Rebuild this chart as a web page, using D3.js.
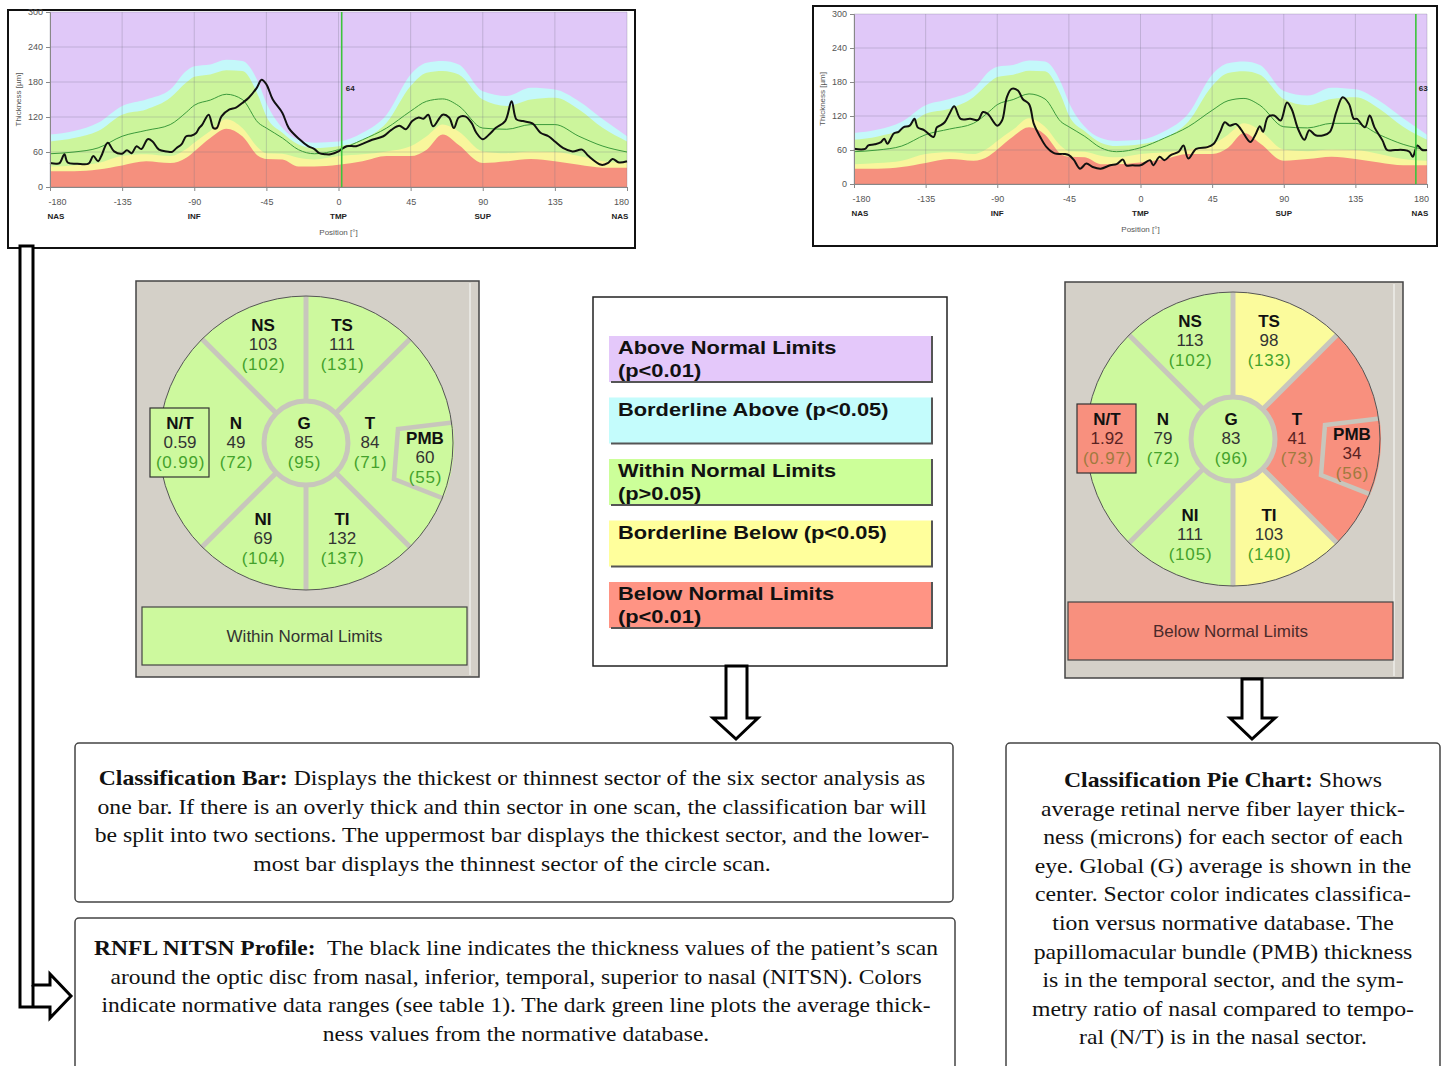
<!DOCTYPE html>
<html><head><meta charset="utf-8">
<script src="https://cdn.jsdelivr.net/npm/d3@7"></script>
<style>body{margin:0;background:#fff} svg{display:block} text{white-space:pre}</style>
</head><body>
<svg id="c" width="1445" height="1066"></svg>
<script>
// ---------- DATA ----------
const normDeg = [-180,-165,-150,-135,-120,-105,-95,-90,-80,-70,-60,-50,-45,-35,-25,-15,0,15,30,45,55,65,75,90,105,120,135,150,165,180];
const normBelow       = [27,27,30,37,44,41,50,61,84,100,87,53,48,47,35,35,38,44,53,53,64,90,72,41,44,48,44,38,33,33];
const normBorderBelow = [35,37,41,53,56,53,65,76,96,116,101,67,58,57,50,47,53,56,61,70,87,107,95,61,58,61,60,53,44,41];
const normWithin      = [78,84,96,124,133,153,179,189,193,200,199,156,121,93,73,67,70,81,110,173,196,199,193,150,139,150,153,133,101,78];
const normBorderAbove = [90,96,110,139,150,167,199,207,210,218,216,179,144,101,81,76,78,93,124,193,213,216,210,164,156,170,167,147,116,87];
const normMean        = [57,60,67,87,97,107,128,140,149,159,150,110,101,84,64,57,64,81,101,130,147,151,139,101,99,107,107,87,70,60];

const odDeg = [-180,-176,-174,-171,-169,-163,-156,-153,-150,-148,-144,-140,-135,-132,-129,-126,-123,-119,-116,-112,-107,-104,-101,-98,-95,-92,-89,-87,-85,-81,-78,-76,-73,-68,-64,-60,-56,-51,-48,-45,-41,-35,-31,-24,-19,-15,-12,-8,-5,0,5,11,15,21,28,33,38,42,46,50,53,56,59,65,69,72,75,79,83,86,90,94,98,104,108,111,115,121,126,131,135,140,146,152,156,164,168,171,175,180];
const odVal = [41,40,41,56,42,40,40,53,44,53,76,61,57,63,58,70,65,82,78,64,61,60,67,73,87,88,92,101,107,124,101,101,121,133,136,144,153,170,184,176,150,127,101,81,70,65,58,56,56,61,70,70,74,81,87,98,105,99,113,119,117,124,104,124,119,101,119,121,110,93,82,90,101,113,147,116,113,109,93,87,78,67,61,64,53,38,41,48,42,44];

const osDeg = [-180,-173,-171,-167,-163,-161,-159,-155,-152,-149,-145,-142,-140,-136,-130,-128,-126,-123,-120,-117,-113,-107,-102,-99,-96,-90,-87,-84,-81,-77,-74,-70,-67,-63,-59,-54,-48,-45,-42,-38,-34,-30,-25,-19,-15,-11,-9,-5,0,6,8,12,15,19,24,27,30,35,42,46,50,53,56,60,63,69,72,75,77,80,84,88,92,95,99,103,106,110,115,119,123,127,131,134,136,141,144,147,152,155,160,165,169,171,174,177,180];
const osVal = [62,62,68,70,74,80,71,89,92,100,103,115,100,95,83,100,103,109,124,137,115,115,113,127,124,103,112,153,168,165,150,141,106,83,65,54,53,51,43,27,36,30,27,33,35,43,33,33,33,42,33,48,42,51,57,68,45,62,65,71,92,109,103,106,97,74,86,102,92,118,121,112,144,132,97,78,95,86,86,92,127,153,141,115,115,100,121,100,77,60,60,60,57,48,68,60,60];

const xTicks = [-180,-135,-90,-45,0,45,90,135,180];
const yTicks = [0,60,120,180,240,300];
const locDeg = [-180,-90,0,90,180];
const locLabels = ["NAS","INF","TMP","SUP","NAS"];
const markerDeg = [2, 173];
const markerLabel = ["64","63"];

const pieLabels    = ["NS","TS","N","G","T","PMB","NI","TI","N/T"];
const odMeasured   = ["103","111","49","85","84","60","69","132","0.59"];
const odNormative  = ["(102)","(131)","(72)","(95)","(71)","(55)","(104)","(137)","(0.99)"];
const odClass      = ["W","W","W","W","W","W","W","W","W"];
const osMeasured   = ["113","98","79","83","41","34","111","103","1.92"];
const osNormative  = ["(102)","(133)","(72)","(96)","(73)","(56)","(105)","(140)","(0.97)"];
const osClass      = ["W","BB","W","W","B","B","W","BB","B"];
const classBarText = ["Within Normal Limits","Below Normal Limits"];
const classBarClass = ["W","B"];

const legendKeys  = ["A","BA","W","BB","B"];
const legendLines = [["Above Normal Limits","(p<0.01)"],["Borderline Above (p<0.05)"],["Within Normal Limits","(p>0.05)"],["Borderline Below (p<0.05)"],["Below Normal Limits","(p<0.01)"]];

const classBarNote = [["Classification Bar:"," Displays the thickest or thinnest sector of the six sector analysis as"],["","one bar. If there is an overly thick and thin sector in one scan, the classification bar will"],["","be split into two sections. The uppermost bar displays the thickest sector, and the lower-"],["","most bar displays the thinnest sector of the circle scan."]];
const profileNote = [["RNFL NITSN Profile:","  The black line indicates the thickness values of the patient\u2019s scan"],["","around the optic disc from nasal, inferior, temporal, superior to nasal (NITSN). Colors"],["","indicate normative data ranges (see table 1). The dark green line plots the average thick-"],["","ness values from the normative database."]];
const pieNote = [["Classification Pie Chart:"," Shows"],["","average retinal nerve fiber layer thick-"],["","ness (microns) for each sector of each"],["","eye. Global (G) average is shown in the"],["","center. Sector color indicates classifica-"],["","tion versus normative database. The"],["","papillomacular bundle (PMB) thickness"],["","is in the temporal sector, and the sym-"],["","metry ratio of nasal compared to tempo-"],["","ral (N/T) is in the nasal sector."]];

// ---------- STYLE ----------
const BAND = {A:"#e0c8f8", BA:"#c4f8fa", W:"#ccf59c", BB:"#f8f69c", B:"#f5907e"};
const PIE  = {A:"#e0c8f8", BA:"#c4f8fa", W:"#cdf99e", BB:"#fbfb9c", B:"#f8907e"};
const LEG  = {A:"#e4c8fa", BA:"#c4fcfc", W:"#ccff99", BB:"#ffff9c", B:"#ff9484"};
const SANS = "'Liberation Sans', Arial, sans-serif";
const SERIF = "'Liberation Serif', 'Times New Roman', serif";

const svg = d3.select("#c");

// ---------- PROFILE CHARTS ----------
function profile(cfg){
  const g = svg.append("g");
  g.append("rect").attr("x",cfg.fx).attr("y",cfg.fy).attr("width",cfg.fw).attr("height",cfg.fh)
    .attr("fill","#fff").attr("stroke","#111").attr("stroke-width",2);
  const x = d3.scaleLinear().domain([-180,180]).range([cfg.px0,cfg.px1]);
  const y = d3.scaleLinear().domain([0,300]).range([cfg.py0,cfg.py1]);
  const idx = d3.range(normDeg.length);
  g.append("rect").attr("x",x(-180)).attr("y",y(300)).attr("width",x(180)-x(-180)).attr("height",y(0)-y(300)).attr("fill",BAND.A);
  const band = (arr,col)=> g.append("path").datum(idx)
      .attr("d", d3.area().x(i=>x(normDeg[i])).y0(y(0)).y1(i=>y(arr[i])).curve(d3.curveMonotoneX))
      .attr("fill",col);
  band(normBorderAbove,BAND.BA);
  band(normWithin,BAND.W);
  band(normBorderBelow,BAND.BB);
  band(normBelow,BAND.B);
  g.selectAll(".gv").data(xTicks).enter().append("line")
    .attr("x1",d=>x(d)).attr("x2",d=>x(d)).attr("y1",y(0)).attr("y2",y(300))
    .attr("stroke","rgba(110,110,130,0.28)").attr("stroke-width",1);
  g.selectAll(".gh").data(yTicks).enter().append("line")
    .attr("x1",x(-180)).attr("x2",x(180)).attr("y1",d=>y(d)).attr("y2",d=>y(d))
    .attr("stroke","rgba(110,110,130,0.28)").attr("stroke-width",1);
  g.append("path").datum(idx)
    .attr("d", d3.line().x(i=>x(normDeg[i])).y(i=>y(normMean[i])).curve(d3.curveMonotoneX))
    .attr("fill","none").attr("stroke","#3b9a3b").attr("stroke-width",1);
  const pi = d3.range(cfg.deg.length);
  g.append("path").datum(pi)
    .attr("d", d3.line().x(i=>x(cfg.deg[i])).y(i=>y(cfg.val[i])).curve(d3.curveCatmullRom.alpha(0.5)))
    .attr("fill","none").attr("stroke","#111").attr("stroke-width",2).attr("stroke-linejoin","round");
  g.append("line").attr("x1",x(cfg.marker)).attr("x2",x(cfg.marker)).attr("y1",y(0)).attr("y2",y(300))
    .attr("stroke","#3cc43c").attr("stroke-width",1.6);
  g.append("text").attr("x",x(cfg.marker)+ (cfg.marker>170?3:4)).attr("y",y(170)+3).text(cfg.markerText)
    .attr("font-family",SANS).attr("font-size",8).attr("font-weight","bold").attr("fill","#222");
  const ax = g.append("g").attr("transform",`translate(0,${y(0)})`)
    .call(d3.axisBottom(x).tickValues(xTicks).tickSize(4).tickPadding(8).tickFormat(d=>d));
  ax.selectAll(".tick text").attr("dx",d=>d===-180?7:(d===180?-6:0));
  const ay = g.append("g").attr("transform",`translate(${x(-180)},0)`)
    .call(d3.axisLeft(y).tickValues(yTicks).tickSize(4).tickPadding(3));
  [ax,ay].forEach(a=>{
    a.selectAll("path,line").attr("stroke","#888");
    a.selectAll("text").attr("font-family",SANS).attr("font-size",9).attr("fill","#555");
  });
  g.selectAll(".loc").data(locDeg).enter().append("text")
    .attr("x",(d,i)=>x(d) + (i===0?6:(i===locDeg.length-1?-7:0))).attr("y",cfg.locY).attr("text-anchor","middle")
    .text((d,i)=>locLabels[i]).attr("font-family",SANS).attr("font-size",8).attr("font-weight","bold").attr("fill","#222");
  g.append("text").attr("x",x(0)).attr("y",cfg.posY).attr("text-anchor","middle").text("Position [\u00b0]")
    .attr("font-family",SANS).attr("font-size",8).attr("fill","#555");
  g.append("text").attr("transform",`translate(${cfg.ylabX},${(y(0)+y(300))/2}) rotate(-90)`)
    .attr("text-anchor","middle").text("Thickness [\u00b5m]")
    .attr("font-family",SANS).attr("font-size",8).attr("fill","#555");
}
profile({fx:8,fy:10,fw:627,fh:238,px0:50,px1:627,py0:187,py1:12,deg:odDeg,val:odVal,marker:markerDeg[0],markerText:markerLabel[0],locY:219,posY:235,ylabX:21});
profile({fx:813,fy:6,fw:624,fh:240,px0:854,px1:1427,py0:184,py1:14,deg:osDeg,val:osVal,marker:markerDeg[1],markerText:markerLabel[1],locY:216,posY:232,ylabX:825});

// ---------- PIE CHARTS ----------
const sectorOrder = [0,1,4,7,6,2];            // NS, TS, T, TI, NI, N (indices into pieLabels)
const sectorAng   = [[-45,0],[0,45],[45,135],[135,180],[180,225],[225,315]];
const labelOff = [[-43,-118],[36,-118],[-70,-20],[-2,-20],[64,-20],[119,-5],[-43,76],[36,76],[-126,-20]];
const rad = d=>d*Math.PI/180;

function pie(cfg){
  const g = svg.append("g");
  g.append("rect").attr("x",cfg.bx).attr("y",cfg.by).attr("width",cfg.bw).attr("height",cfg.bh)
    .attr("fill","#d4d0c8").attr("stroke","#444").attr("stroke-width",1.5);
  g.append("line").attr("x1",cfg.bx+cfg.bw-9).attr("x2",cfg.bx+cfg.bw-9).attr("y1",cfg.by+2).attr("y2",cfg.by+cfg.bh-2)
    .attr("stroke","#eeeeea").attr("stroke-width",1.5);
  const c = g.append("g").attr("transform",`translate(${cfg.cx},${cfg.cy})`);
  const R = 147;
  const arc = d3.arc();
  sectorOrder.forEach((si,k)=>{
    c.append("path").attr("d",arc({innerRadius:0,outerRadius:R,startAngle:rad(sectorAng[k][0]),endAngle:rad(sectorAng[k][1])}))
      .attr("fill",PIE[cfg.cls[si]]);
  });
  const pt = (r,a)=>[r*Math.sin(rad(a)), -r*Math.cos(rad(a))];
  const o1 = pt(R+1,82), o2 = pt(R+1,112);
  const i1 = [92,-14], i2 = [88,36];
  c.append("path").attr("d",`M${o1}L${i1}L${i2}L${o2}A${R+1},${R+1} 0 0 0 ${o1}Z`).attr("fill",PIE[cfg.cls[5]]);
  [0,45,135,180,225,315].forEach(a=>{
    const p0 = pt(43,a), p1 = pt(R,a);
    c.append("line").attr("x1",p0[0]).attr("y1",p0[1]).attr("x2",p1[0]).attr("y2",p1[1])
      .attr("stroke","#c8c6bc").attr("stroke-width",5);
  });
  c.append("path").attr("d",`M${o1}L${i1}L${i2}L${o2}`).attr("fill","none").attr("stroke","#c8c6bc").attr("stroke-width",4.5);
  c.append("circle").attr("r",42).attr("fill",PIE[cfg.cls[3]]).attr("stroke","#c8c6bc").attr("stroke-width",5);
  c.append("circle").attr("r",R).attr("fill","none").attr("stroke","#555").attr("stroke-width",1);
  c.append("rect").attr("x",-156).attr("y",-35).attr("width",59).attr("height",69)
    .attr("fill",PIE[cfg.cls[8]]).attr("stroke","#333").attr("stroke-width",1.2);
  pieLabels.forEach((lab,i)=>{
    const [lx,ly] = labelOff[i];
    const bad = cfg.cls[i]==="B";
    c.append("text").attr("x",lx).attr("y",ly+6).attr("text-anchor","middle").text(lab)
      .attr("font-family",SANS).attr("font-size",17).attr("font-weight","bold").attr("fill","#111");
    c.append("text").attr("x",lx).attr("y",ly+25).attr("text-anchor","middle").text(cfg.meas[i])
      .attr("font-family",SANS).attr("font-size",17).attr("fill",bad?"#5a2222":"#333");
    c.append("text").attr("x",lx+0.5).attr("y",ly+45).attr("text-anchor","middle").text(cfg.norm[i])
      .attr("font-family",SANS).attr("font-size",17).attr("letter-spacing",0.8).attr("fill",bad?"#a07a3e":"#44a22c");
  });
  g.append("rect").attr("x",cfg.cbx).attr("y",cfg.cby).attr("width",325).attr("height",58)
    .attr("fill",PIE[cfg.barCls]).attr("stroke","#444").attr("stroke-width",1.2);
  g.append("text").attr("x",cfg.cbx+162.5).attr("y",cfg.cby+35).attr("text-anchor","middle").text(cfg.barText)
    .attr("font-family",SANS).attr("font-size",17).attr("fill",cfg.barCls==="B"?"#4a2a2a":"#333");
}
pie({bx:136,by:281,bw:343,bh:396,cx:306,cy:443,cls:odClass,meas:odMeasured,norm:odNormative,cbx:142,cby:607,barCls:classBarClass[0],barText:classBarText[0]});
pie({bx:1065,by:282,bw:338,bh:396,cx:1233,cy:439,cls:osClass,meas:osMeasured,norm:osNormative,cbx:1068,cby:602,barCls:classBarClass[1],barText:classBarText[1]});

// ---------- LEGEND ----------
const lg = svg.append("g");
lg.append("rect").attr("x",593).attr("y",297).attr("width",354).attr("height",369).attr("fill","#fff").attr("stroke","#222").attr("stroke-width",1.5);
const legTop = d3.scaleLinear().domain([0,4]).range([336,582]);
legendKeys.forEach((k,i)=>{
  const t = legTop(i);
  lg.append("rect").attr("x",609).attr("y",t).attr("width",323).attr("height",46).attr("fill",LEG[k]);
  lg.append("path").attr("d",`M611,${t+46}H932V${t}`).attr("fill","none").attr("stroke","#555").attr("stroke-width",2);
  legendLines[i].forEach((s,j)=>{
    lg.append("text").attr("transform",`translate(618,${t+18+j*23}) scale(1.15,1)`).text(s)
      .attr("font-family",SANS).attr("font-size",19).attr("font-weight","bold").attr("fill","#111");
  });
});

// ---------- ARROWS ----------
const ar = svg.append("g").attr("fill","#fff").attr("stroke","#000").attr("stroke-width",3).attr("stroke-linejoin","miter");
ar.append("path").attr("d","M20,246V1007H50V1018L71,996L50,974V985H33V246Z");
ar.append("path").attr("d","M33,985V1007").attr("fill","none");
ar.append("path").attr("d","M726,666V718H713L736,739L758,718H747V666Z");
ar.append("path").attr("d","M1242,679V718H1230L1252,739L1275,718H1262V679Z");

// ---------- NOTE BOXES ----------
function note(x,y,w,h,lines,cx,base,step,sx){
  const g = svg.append("g");
  g.append("rect").attr("x",x).attr("y",y).attr("width",w).attr("height",h).attr("rx",4)
    .attr("fill","#fff").attr("stroke","#444").attr("stroke-width",1.5);
  lines.forEach((ln,i)=>{
    const t = g.append("text").attr("transform",`translate(${cx},${base+i*step}) scale(${sx},1)`).attr("text-anchor","middle")
      .attr("font-family",SERIF).attr("font-size",21).attr("fill","#111");
    if(ln[0]) t.append("tspan").attr("font-weight","bold").text(ln[0]);
    t.append("tspan").text(ln[1]);
  });
}
note(75,743,878,159,classBarNote,512,785,28.7,1.13);
note(75,918,880,160,profileNote,516,955,28.7,1.12);
note(1006,743,434,340,pieNote,1223,787,28.6,1.13);
</script>
</body></html>
